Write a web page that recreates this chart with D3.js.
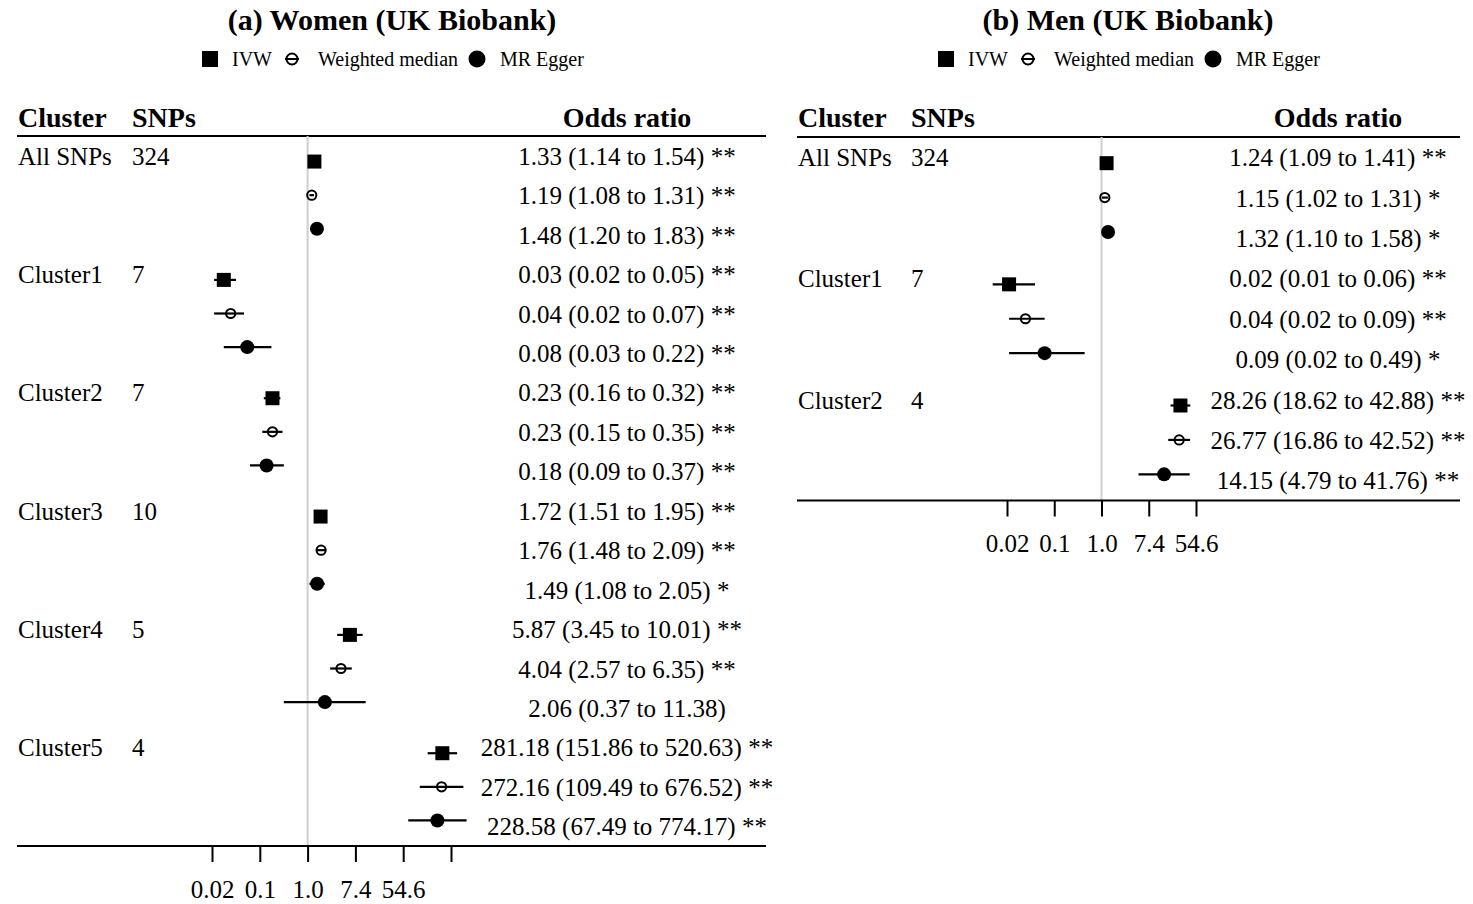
<!DOCTYPE html>
<html>
<head>
<meta charset="utf-8">
<script src="https://cdn.jsdelivr.net/npm/d3@7"></script>
<style>
  body { margin: 0; background: #fff; }
  svg { display: block; }
</style>
</head>
<body>
<svg id="chart" width="1473" height="904"></svg>
<script>
// ---------------- DATA ----------------
const methods = ["IVW", "Weighted median", "MR Egger"];

const tickValues = [0.0183156, 0.1353353, 1, 7.3890561, 54.59815, 403.42879];
const tickLabels = ["0.02", "0.1", "1.0", "7.4", "54.6", ""];

const womenClusters = ["All SNPs", "Cluster1", "Cluster2", "Cluster3", "Cluster4", "Cluster5"];
const womenSNPs = ["324", "7", "7", "10", "5", "4"];
const womenEst = [[1.33, 1.19, 1.48], [0.03, 0.04, 0.08], [0.23, 0.23, 0.18], [1.72, 1.76, 1.49], [5.87, 4.04, 2.06], [281.18, 272.16, 228.58]];
const womenLower = [[1.14, 1.08, 1.20], [0.02, 0.02, 0.03], [0.16, 0.15, 0.09], [1.51, 1.48, 1.08], [3.45, 2.57, 0.37], [151.86, 109.49, 67.49]];
const womenUpper = [[1.54, 1.31, 1.83], [0.05, 0.07, 0.22], [0.32, 0.35, 0.37], [1.95, 2.09, 2.05], [10.01, 6.35, 11.38], [520.63, 676.52, 774.17]];
const womenSig = [["**", "**", "**"], ["**", "**", "**"], ["**", "**", "**"], ["**", "**", "*"], ["**", "**", ""], ["**", "**", "**"]];

const menClusters = ["All SNPs", "Cluster1", "Cluster2"];
const menSNPs = ["324", "7", "4"];
const menEst = [[1.24, 1.15, 1.32], [0.02, 0.04, 0.09], [28.26, 26.77, 14.15]];
const menLower = [[1.09, 1.02, 1.10], [0.01, 0.02, 0.02], [18.62, 16.86, 4.79]];
const menUpper = [[1.41, 1.31, 1.58], [0.06, 0.09, 0.49], [42.88, 42.52, 41.76]];
const menSig = [["**", "*", "*"], ["**", "**", "*"], ["**", "**", "**"]];

// ---------------- DRAW ----------------
const FONT = "'Liberation Serif', 'Times New Roman', Times, serif";
const svg = d3.select("#chart");

function drawPanel(cfg) {
  const g = svg.append("g");
  const x = d3.scaleLog().base(Math.E).domain(cfg.domain).range(cfg.range);

  // title
  g.append("text").attr("x", cfg.titleX).attr("y", 30)
    .attr("text-anchor", "middle").attr("font-family", FONT)
    .attr("font-weight", "bold").attr("font-size", 30).text(cfg.title);

  // legend
  const ly = 59;
  const lx = cfg.legendX;
  g.append("rect").attr("x", lx).attr("y", ly - 8).attr("width", 16).attr("height", 16).attr("fill", "#000");
  g.append("text").attr("x", lx + 30).attr("y", ly + 7).attr("font-family", FONT).attr("font-size", 20).text(methods[0]);
  g.append("line").attr("x1", lx + 83).attr("x2", lx + 97).attr("y1", ly).attr("y2", ly).attr("stroke", "#000").attr("stroke-width", 2);
  g.append("circle").attr("cx", lx + 90).attr("cy", ly).attr("r", 5.5).attr("fill", "none").attr("stroke", "#000").attr("stroke-width", 2);
  g.append("text").attr("x", lx + 116).attr("y", ly + 7).attr("font-family", FONT).attr("font-size", 20).text(methods[1]);
  g.append("circle").attr("cx", lx + 275).attr("cy", ly).attr("r", 8.5).attr("fill", "#000");
  g.append("text").attr("x", lx + 298).attr("y", ly + 7).attr("font-family", FONT).attr("font-size", 20).text(methods[2]);

  // column headers
  const hb = 127;
  g.append("text").attr("x", cfg.clusterX).attr("y", hb).attr("font-family", FONT).attr("font-weight", "bold").attr("font-size", 28).text("Cluster");
  g.append("text").attr("x", cfg.snpX).attr("y", hb).attr("font-family", FONT).attr("font-weight", "bold").attr("font-size", 28).text("SNPs");
  g.append("text").attr("x", cfg.orX).attr("y", hb).attr("text-anchor", "middle").attr("font-family", FONT).attr("font-weight", "bold").attr("font-size", 28).text("Odds ratio");

  // lines
  g.append("line").attr("x1", cfg.left).attr("x2", cfg.right).attr("y1", cfg.top).attr("y2", cfg.top).attr("stroke", "#000").attr("stroke-width", 2);
  g.append("line").attr("x1", x(1)).attr("x2", x(1)).attr("y1", cfg.top).attr("y2", cfg.bottom).attr("stroke", "#cfcfcf").attr("stroke-width", 2);

  const n = cfg.clusters.length;
  const band = (cfg.bottom - cfg.top) / n;

  cfg.clusters.forEach((cl, gi) => {
    const textY = k => cfg.top + band * (gi + (k + 0.5) / 3);
    const markY = k => cfg.top + band * (gi + 0.5) + (k - 1) * band * 0.284;
    g.append("text").attr("x", cfg.clusterX).attr("y", textY(0) + 9).attr("font-family", FONT).attr("font-size", 25).text(cl);
    g.append("text").attr("x", cfg.snpX).attr("y", textY(0) + 9).attr("font-family", FONT).attr("font-size", 25).text(cfg.snps[gi]);
    for (let k = 0; k < 3; k++) {
      const est = cfg.est[gi][k], lo = cfg.lower[gi][k], hi = cfg.upper[gi][k], sig = cfg.sig[gi][k];
      let label = est.toFixed(2) + " (" + lo.toFixed(2) + " to " + hi.toFixed(2) + ")";
      if (sig) label += " " + sig;
      g.append("text").attr("x", cfg.orX).attr("y", textY(k) + 9).attr("text-anchor", "middle")
        .attr("font-family", FONT).attr("font-size", 25).text(label);
      const my = markY(k);
      g.append("line").attr("x1", x(lo)).attr("x2", x(hi)).attr("y1", my).attr("y2", my)
        .attr("stroke", "#000").attr("stroke-width", 2.2);
      if (k === 0) {
        g.append("rect").attr("x", x(est) - 7).attr("y", my - 7).attr("width", 14).attr("height", 14).attr("fill", "#000");
      } else if (k === 1) {
        g.append("circle").attr("cx", x(est)).attr("cy", my).attr("r", 4.6).attr("fill", "none").attr("stroke", "#000").attr("stroke-width", 2);
      } else {
        g.append("circle").attr("cx", x(est)).attr("cy", my).attr("r", 7).attr("fill", "#000");
      }
    }
  });

  // bottom axis
  g.append("line").attr("x1", cfg.left).attr("x2", cfg.right).attr("y1", cfg.bottom).attr("y2", cfg.bottom).attr("stroke", "#000").attr("stroke-width", 2);
  const nt = cfg.nTicks;
  const axis = d3.axisBottom(x)
    .tickValues(tickValues.slice(0, nt))
    .tickSize(16).tickPadding(18)
    .tickFormat((d, i) => tickLabels[i]);
  const ax = g.append("g").attr("transform", `translate(0,${cfg.bottom})`).call(axis);
  ax.select(".domain").remove();
  ax.selectAll(".tick line").attr("stroke", "#000").attr("stroke-width", 2);
  ax.selectAll(".tick text").attr("font-family", FONT).attr("font-size", 25).attr("fill", "#000");
}

drawPanel({
  title: "(a) Women (UK Biobank)", titleX: 392, legendX: 202,
  left: 17, right: 766, top: 136, bottom: 846,
  domain: [tickValues[0], tickValues[5]], range: [212, 451], nTicks: 6,
  clusterX: 18, snpX: 132, orX: 627,
  clusters: womenClusters, snps: womenSNPs, est: womenEst, lower: womenLower, upper: womenUpper, sig: womenSig
});

drawPanel({
  title: "(b) Men (UK Biobank)", titleX: 1128, legendX: 938,
  left: 797, right: 1460, top: 137, bottom: 500.5,
  domain: [tickValues[0], tickValues[4]], range: [1007, 1196], nTicks: 5,
  clusterX: 798, snpX: 911, orX: 1338,
  clusters: menClusters, snps: menSNPs, est: menEst, lower: menLower, upper: menUpper, sig: menSig
});
</script>
</body>
</html>
